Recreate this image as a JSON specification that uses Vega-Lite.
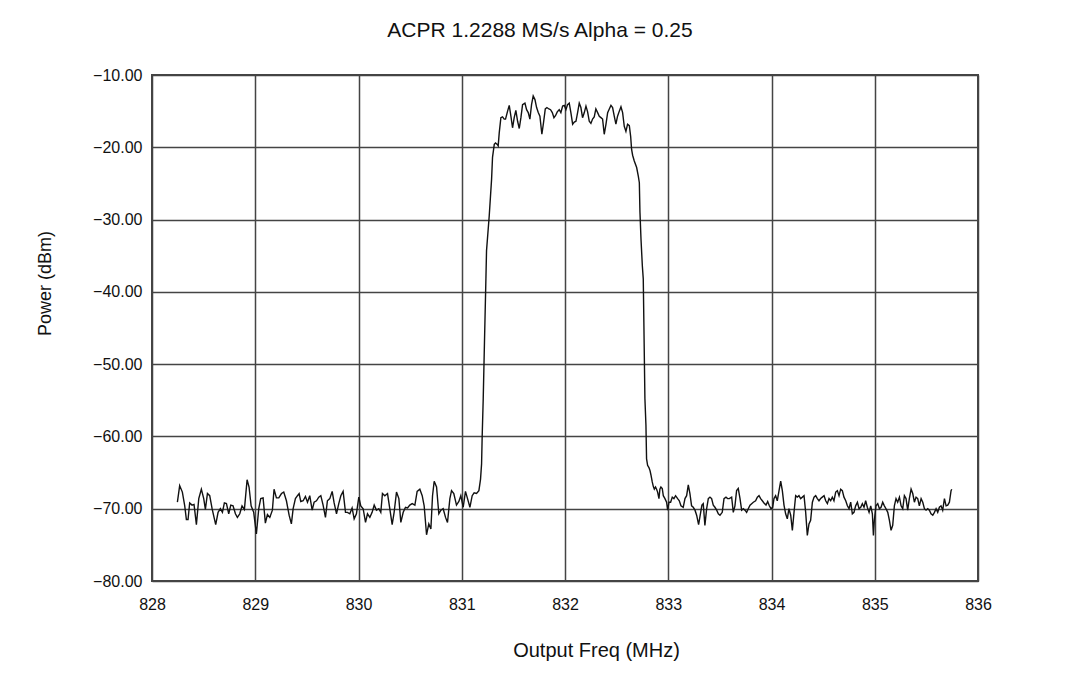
{
  "$schema": "https://vega.github.io/schema/vega-lite/v6.json",
  "width": 826,
  "height": 506,
  "autosize": "none",
  "padding": {"left": 152, "top": 75, "right": 103, "bottom": 98},
  "background": "white",
  "config": {
    "font": "Liberation Sans",
    "view": {"stroke": "#444", "strokeWidth": 2},
    "axis": {"grid": true, "gridColor": "#444", "gridWidth": 1.5, "gridOpacity": 1, "domain": false, "ticks": false, "labelFlush": false, "labelOverlap": false, "labelColor": "#111", "titleColor": "#111", "labelFont": "Liberation Sans", "titleFont": "Liberation Sans", "titleFontWeight": "normal"}
  },
  "title": {"text": "ACPR 1.2288 MS/s Alpha = 0.25", "fontSize": 21, "fontWeight": "normal", "color": "#111", "anchor": "middle", "frame": "group", "dx": -25, "baseline": "middle", "offset": 15},
  "data": {"values": [
{"freq":828.246,"power":-69.1},{"freq":828.268,"power":-66.8},{"freq":828.294,"power":-67.7},{"freq":828.317,"power":-69.6},{"freq":828.333,"power":-71.5},{"freq":828.349,"power":-71.5},{"freq":828.365,"power":-69.2},{"freq":828.388,"power":-69.5},{"freq":828.407,"power":-69.4},{"freq":828.43,"power":-72.2},{"freq":828.453,"power":-68.6},{"freq":828.478,"power":-67.3},{"freq":828.501,"power":-68.6},{"freq":828.517,"power":-70.1},{"freq":828.537,"power":-67.9},{"freq":828.559,"power":-68.2},{"freq":828.582,"power":-70.0},{"freq":828.601,"power":-71.2},{"freq":828.617,"power":-72.2},{"freq":828.64,"power":-70.5},{"freq":828.662,"power":-70.0},{"freq":828.682,"power":-70.5},{"freq":828.701,"power":-69.2},{"freq":828.721,"power":-69.3},{"freq":828.743,"power":-70.7},{"freq":828.763,"power":-69.5},{"freq":828.785,"power":-69.6},{"freq":828.808,"power":-70.7},{"freq":828.827,"power":-71.2},{"freq":828.85,"power":-70.7},{"freq":828.872,"power":-69.6},{"freq":828.895,"power":-70.1},{"freq":828.921,"power":-66.0},{"freq":828.94,"power":-67.0},{"freq":828.96,"power":-69.6},{"freq":828.985,"power":-70.5},{"freq":829.011,"power":-73.5},{"freq":829.034,"power":-70.0},{"freq":829.053,"power":-68.6},{"freq":829.076,"power":-68.5},{"freq":829.098,"power":-72.0},{"freq":829.118,"power":-70.8},{"freq":829.141,"power":-71.2},{"freq":829.166,"power":-70.2},{"freq":829.182,"power":-67.3},{"freq":829.205,"power":-68.5},{"freq":829.228,"power":-68.5},{"freq":829.254,"power":-67.9},{"freq":829.276,"power":-67.7},{"freq":829.302,"power":-68.9},{"freq":829.328,"power":-70.9},{"freq":829.35,"power":-72.1},{"freq":829.367,"power":-70.0},{"freq":829.389,"power":-68.6},{"freq":829.409,"power":-68.2},{"freq":829.425,"power":-67.9},{"freq":829.441,"power":-69.0},{"freq":829.464,"power":-68.9},{"freq":829.486,"power":-68.3},{"freq":829.506,"power":-69.1},{"freq":829.528,"power":-68.2},{"freq":829.551,"power":-70.2},{"freq":829.57,"power":-69.1},{"freq":829.593,"power":-68.9},{"freq":829.615,"power":-68.4},{"freq":829.635,"power":-68.2},{"freq":829.657,"power":-69.5},{"freq":829.68,"power":-71.2},{"freq":829.699,"power":-68.9},{"freq":829.722,"power":-68.6},{"freq":829.745,"power":-67.6},{"freq":829.764,"power":-69.2},{"freq":829.787,"power":-70.7},{"freq":829.809,"power":-69.3},{"freq":829.829,"power":-68.2},{"freq":829.851,"power":-67.6},{"freq":829.874,"power":-70.5},{"freq":829.893,"power":-70.5},{"freq":829.916,"power":-70.7},{"freq":829.938,"power":-69.9},{"freq":829.958,"power":-71.4},{"freq":829.98,"power":-70.7},{"freq":830.003,"power":-68.4},{"freq":830.022,"power":-69.6},{"freq":830.045,"power":-70.0},{"freq":830.068,"power":-71.9},{"freq":830.087,"power":-70.7},{"freq":830.11,"power":-71.2},{"freq":830.132,"power":-70.5},{"freq":830.152,"power":-69.5},{"freq":830.174,"power":-70.2},{"freq":830.197,"power":-70.0},{"freq":830.216,"power":-70.5},{"freq":830.232,"power":-67.9},{"freq":830.255,"power":-68.2},{"freq":830.281,"power":-67.9},{"freq":830.303,"power":-70.0},{"freq":830.326,"power":-72.2},{"freq":830.345,"power":-70.5},{"freq":830.368,"power":-67.7},{"freq":830.391,"power":-68.6},{"freq":830.41,"power":-71.9},{"freq":830.433,"power":-70.5},{"freq":830.455,"power":-69.8},{"freq":830.475,"power":-69.9},{"freq":830.497,"power":-69.5},{"freq":830.52,"power":-69.3},{"freq":830.546,"power":-69.5},{"freq":830.568,"power":-67.6},{"freq":830.594,"power":-67.3},{"freq":830.617,"power":-68.2},{"freq":830.636,"power":-69.6},{"freq":830.659,"power":-73.6},{"freq":830.681,"power":-72.1},{"freq":830.701,"power":-72.8},{"freq":830.717,"power":-68.2},{"freq":830.733,"power":-66.2},{"freq":830.756,"power":-67.0},{"freq":830.778,"power":-70.7},{"freq":830.798,"power":-70.2},{"freq":830.82,"power":-70.0},{"freq":830.843,"power":-71.2},{"freq":830.862,"power":-71.9},{"freq":830.885,"power":-68.6},{"freq":830.901,"power":-67.5},{"freq":830.923,"power":-67.9},{"freq":830.949,"power":-69.5},{"freq":830.972,"power":-69.0},{"freq":830.991,"power":-68.2},{"freq":831.014,"power":-69.8},{"freq":831.036,"power":-67.6},{"freq":831.056,"power":-68.6},{"freq":831.079,"power":-69.8},{"freq":831.101,"power":-68.2},{"freq":831.12,"power":-67.8},{"freq":831.143,"power":-67.9},{"freq":831.166,"power":-67.5},{"freq":831.182,"power":-65.9},{"freq":831.192,"power":-63.8},{"freq":831.198,"power":-59.9},{"freq":831.208,"power":-54.8},{"freq":831.22,"power":-47.0},
{"freq":831.234,"power":-38.2},{"freq":831.24,"power":-34.3},{"freq":831.266,"power":-29.5},{"freq":831.289,"power":-24.4},{"freq":831.298,"power":-21.4},{"freq":831.315,"power":-19.6},{"freq":831.327,"power":-19.4},{"freq":831.344,"power":-19.6},{"freq":831.353,"power":-19.8},{"freq":831.363,"power":-18.0},{"freq":831.379,"power":-15.9},{"freq":831.395,"power":-15.8},{"freq":831.411,"power":-16.1},{"freq":831.424,"power":-16.1},{"freq":831.444,"power":-15.0},{"freq":831.46,"power":-14.2},{"freq":831.476,"power":-15.7},{"freq":831.492,"power":-17.3},{"freq":831.508,"power":-15.9},{"freq":831.524,"power":-14.9},{"freq":831.541,"power":-16.4},{"freq":831.557,"power":-17.4},{"freq":831.573,"power":-15.9},{"freq":831.589,"power":-14.1},{"freq":831.612,"power":-13.9},{"freq":831.628,"power":-14.8},{"freq":831.644,"power":-15.2},{"freq":831.66,"power":-16.1},{"freq":831.676,"power":-14.1},{"freq":831.692,"power":-12.9},{"freq":831.709,"power":-13.4},{"freq":831.725,"power":-14.5},{"freq":831.741,"power":-15.2},{"freq":831.757,"power":-15.7},{"freq":831.776,"power":-18.2},{"freq":831.792,"power":-16.6},{"freq":831.809,"power":-14.7},{"freq":831.825,"power":-14.5},{"freq":831.844,"power":-14.7},{"freq":831.86,"power":-14.8},{"freq":831.877,"power":-15.2},{"freq":831.893,"power":-15.9},{"freq":831.909,"power":-15.6},{"freq":831.925,"power":-15.1},{"freq":831.944,"power":-14.8},{"freq":831.96,"power":-15.2},{"freq":831.977,"power":-14.3},{"freq":831.993,"power":-14.2},{"freq":832.009,"power":-14.8},{"freq":832.025,"power":-14.1},{"freq":832.041,"power":-13.9},{"freq":832.057,"power":-15.2},{"freq":832.074,"power":-16.8},{"freq":832.09,"power":-16.5},{"freq":832.106,"power":-16.4},{"freq":832.122,"power":-15.2},{"freq":832.138,"power":-13.9},{"freq":832.154,"power":-14.5},{"freq":832.17,"power":-15.9},{"freq":832.187,"power":-15.2},{"freq":832.203,"power":-14.3},{"freq":832.219,"power":-15.1},{"freq":832.235,"power":-16.4},{"freq":832.251,"power":-16.7},{"freq":832.267,"power":-16.1},{"freq":832.283,"power":-15.8},{"freq":832.299,"power":-14.7},{"freq":832.316,"power":-15.2},{"freq":832.332,"power":-15.7},{"freq":832.348,"power":-15.9},{"freq":832.364,"power":-16.1},{"freq":832.38,"power":-18.2},{"freq":832.397,"power":-16.8},{"freq":832.413,"power":-15.2},{"freq":832.429,"power":-14.7},{"freq":832.445,"power":-14.2},{"freq":832.461,"power":-14.5},{"freq":832.477,"power":-15.7},{"freq":832.493,"power":-16.8},{"freq":832.509,"power":-15.7},{"freq":832.526,"power":-15.0},{"freq":832.542,"power":-14.4},{"freq":832.558,"power":-15.2},{"freq":832.574,"power":-17.1},{"freq":832.59,"power":-17.8},{"freq":832.606,"power":-16.8},{"freq":832.623,"power":-17.0},{"freq":832.636,"power":-18.5},{"freq":832.645,"power":-20.3},{"freq":832.655,"power":-21.1},{"freq":832.671,"power":-21.9},{"freq":832.694,"power":-22.8},{"freq":832.71,"power":-24.0},{"freq":832.72,"power":-24.9},{"freq":832.726,"power":-29.0},{"freq":832.736,"power":-32.7},{"freq":832.749,"power":-36.4},{"freq":832.758,"power":-38.2},
{"freq":832.774,"power":-54.8},{"freq":832.784,"power":-58.5},{"freq":832.79,"power":-63.1},{"freq":832.8,"power":-64.0},{"freq":832.813,"power":-64.3},{"freq":832.823,"power":-64.7},{"freq":832.832,"power":-65.3},{"freq":832.845,"power":-66.3},{"freq":832.855,"power":-66.9},{"freq":832.865,"power":-67.3},{"freq":832.877,"power":-67.0},{"freq":832.887,"power":-67.3},{"freq":832.897,"power":-67.7},{"freq":832.91,"power":-68.6},{"freq":832.919,"power":-67.3},{"freq":832.929,"power":-67.0},{"freq":832.942,"power":-67.2},{"freq":832.952,"power":-68.2},{"freq":832.968,"power":-68.6},{"freq":832.984,"power":-69.1},{"freq":832.994,"power":-70.2},{"freq":833.007,"power":-69.1},{"freq":833.023,"power":-69.1},{"freq":833.039,"power":-68.4},{"freq":833.055,"power":-68.6},{"freq":833.071,"power":-68.2},{"freq":833.091,"power":-68.6},{"freq":833.107,"power":-68.9},{"freq":833.123,"power":-69.6},{"freq":833.145,"power":-69.8},{"freq":833.162,"power":-68.6},{"freq":833.178,"power":-68.2},{"freq":833.194,"power":-66.7},{"freq":833.21,"power":-67.9},{"freq":833.226,"power":-69.6},{"freq":833.242,"power":-69.8},{"freq":833.259,"power":-70.2},{"freq":833.275,"power":-70.9},{"freq":833.294,"power":-72.2},{"freq":833.314,"power":-70.5},{"freq":833.326,"power":-69.5},{"freq":833.339,"power":-69.3},{"freq":833.355,"power":-72.3},{"freq":833.372,"power":-70.0},{"freq":833.388,"power":-68.6},{"freq":833.404,"power":-68.4},{"freq":833.42,"power":-68.6},{"freq":833.436,"power":-69.5},{"freq":833.452,"power":-69.8},{"freq":833.469,"power":-70.2},{"freq":833.485,"power":-70.7},{"freq":833.501,"power":-70.9},{"freq":833.523,"power":-70.5},{"freq":833.54,"power":-68.6},{"freq":833.559,"power":-68.4},{"freq":833.575,"power":-68.6},{"freq":833.591,"power":-68.6},{"freq":833.614,"power":-68.4},{"freq":833.63,"power":-70.5},{"freq":833.646,"power":-69.6},{"freq":833.662,"power":-67.5},{"freq":833.678,"power":-67.2},{"freq":833.695,"power":-68.6},{"freq":833.711,"power":-70.2},{"freq":833.727,"power":-70.0},{"freq":833.743,"power":-70.2},{"freq":833.759,"power":-70.5},{"freq":833.775,"power":-70.0},{"freq":833.792,"power":-69.5},{"freq":833.808,"power":-69.3},{"freq":833.824,"power":-69.1},{"freq":833.846,"power":-68.9},{"freq":833.863,"power":-68.4},{"freq":833.879,"power":-68.2},{"freq":833.895,"power":-68.6},{"freq":833.911,"power":-68.9},{"freq":833.927,"power":-69.2},{"freq":833.947,"power":-69.5},{"freq":833.963,"power":-69.0},{"freq":833.979,"power":-69.6},{"freq":833.995,"power":-70.0},{"freq":834.011,"power":-69.8},{"freq":834.024,"power":-68.6},{"freq":834.04,"power":-68.2},{"freq":834.056,"power":-68.9},{"freq":834.073,"power":-67.5},{"freq":834.089,"power":-66.2},{"freq":834.105,"power":-67.5},{"freq":834.121,"power":-69.5},{"freq":834.137,"power":-70.7},{"freq":834.153,"power":-71.4},{"freq":834.169,"power":-70.0},{"freq":834.186,"power":-70.9},{"freq":834.202,"power":-73.0},{"freq":834.218,"power":-70.5},{"freq":834.234,"power":-68.2},{"freq":834.25,"power":-68.4},{"freq":834.266,"power":-68.2},{"freq":834.282,"power":-68.6},{"freq":834.299,"power":-68.4},{"freq":834.315,"power":-68.2},{"freq":834.331,"power":-70.5},{"freq":834.347,"power":-73.7},{"freq":834.363,"power":-72.1},{"freq":834.379,"power":-71.6},{"freq":834.396,"power":-69.1},{"freq":834.412,"power":-68.4},{"freq":834.428,"power":-68.2},{"freq":834.444,"power":-68.6},{"freq":834.46,"power":-68.9},{"freq":834.476,"power":-68.6},{"freq":834.492,"power":-68.4},{"freq":834.509,"power":-68.2},{"freq":834.525,"power":-68.9},{"freq":834.541,"power":-69.3},{"freq":834.557,"power":-68.6},{"freq":834.573,"power":-68.9},{"freq":834.589,"power":-68.4},{"freq":834.605,"power":-68.9},{"freq":834.622,"power":-67.7},{"freq":834.638,"power":-67.5},{"freq":834.654,"power":-68.2},{"freq":834.67,"power":-67.3},{"freq":834.686,"power":-67.5},{"freq":834.702,"power":-68.4},{"freq":834.719,"power":-68.9},{"freq":834.735,"power":-69.6},{"freq":834.751,"power":-70.0},{"freq":834.767,"power":-69.1},{"freq":834.783,"power":-70.7},{"freq":834.799,"power":-70.5},{"freq":834.815,"power":-69.6},{"freq":834.832,"power":-69.1},{"freq":834.848,"power":-70.0},{"freq":834.864,"power":-69.8},{"freq":834.88,"power":-69.3},{"freq":834.896,"power":-69.8},{"freq":834.912,"power":-68.9},{"freq":834.928,"power":-69.8},{"freq":834.945,"power":-70.5},{"freq":834.961,"power":-69.6},{"freq":834.977,"power":-70.7},{"freq":834.987,"power":-73.7},{"freq":834.996,"power":-71.6},{"freq":835.012,"power":-69.6},{"freq":835.029,"power":-69.3},{"freq":835.045,"power":-70.0},{"freq":835.061,"power":-69.8},{"freq":835.077,"power":-69.1},{"freq":835.093,"power":-69.6},{"freq":835.109,"power":-70.0},{"freq":835.126,"power":-70.5},{"freq":835.142,"power":-71.6},{"freq":835.158,"power":-73.0},{"freq":835.174,"power":-72.3},{"freq":835.19,"power":-69.6},{"freq":835.206,"power":-68.6},{"freq":835.222,"power":-69.1},{"freq":835.239,"power":-68.4},{"freq":835.255,"power":-69.6},{"freq":835.271,"power":-70.0},{"freq":835.287,"power":-68.2},{"freq":835.303,"power":-68.6},{"freq":835.319,"power":-70.2},{"freq":835.335,"power":-68.6},{"freq":835.352,"power":-67.3},{"freq":835.368,"power":-67.9},{"freq":835.384,"power":-69.1},{"freq":835.4,"power":-68.4},{"freq":835.416,"power":-68.6},{"freq":835.432,"power":-69.6},{"freq":835.449,"power":-68.6},{"freq":835.465,"power":-69.1},{"freq":835.481,"power":-70.0},{"freq":835.497,"power":-70.2},{"freq":835.513,"power":-70.0},{"freq":835.529,"power":-70.2},{"freq":835.545,"power":-70.7},{"freq":835.562,"power":-70.9},{"freq":835.578,"power":-70.5},{"freq":835.594,"power":-70.0},{"freq":835.61,"power":-70.5},{"freq":835.626,"power":-69.8},{"freq":835.642,"power":-69.6},{"freq":835.658,"power":-70.2},{"freq":835.675,"power":-68.6},{"freq":835.691,"power":-69.6},{"freq":835.707,"power":-69.5},{"freq":835.723,"power":-69.1},{"freq":835.739,"power":-67.5},{"freq":835.746,"power":-67.3}
  ]},
  "mark": {"type": "line", "color": "#111", "strokeWidth": 1.4, "interpolate": "linear"},
  "encoding": {
    "x": {"field": "freq", "type": "quantitative", "sort": null,
      "scale": {"domain": [828, 836], "nice": false, "zero": false},
      "axis": {"values": [828, 829, 830, 831, 832, 833, 834, 835, 836], "format": "d", "labelFontSize": 16, "labelPadding": 15, "title": "Output Freq (MHz)", "titleFontSize": 20, "titleX": 444, "titleY": 75, "titleAnchor": null, "titleBaseline": "alphabetic"}},
    "y": {"field": "power", "type": "quantitative",
      "scale": {"domain": [-80, -10], "nice": false, "zero": false},
      "axis": {"values": [-80, -70, -60, -50, -40, -30, -20, -10], "format": ".2f", "labelFontSize": 16, "labelPadding": 10, "title": "Power (dBm)", "titleFontSize": 18, "titleX": -107, "titleY": 208, "titleAngle": -90, "titleAlign": "center", "titleBaseline": "middle"}}
  }
}
